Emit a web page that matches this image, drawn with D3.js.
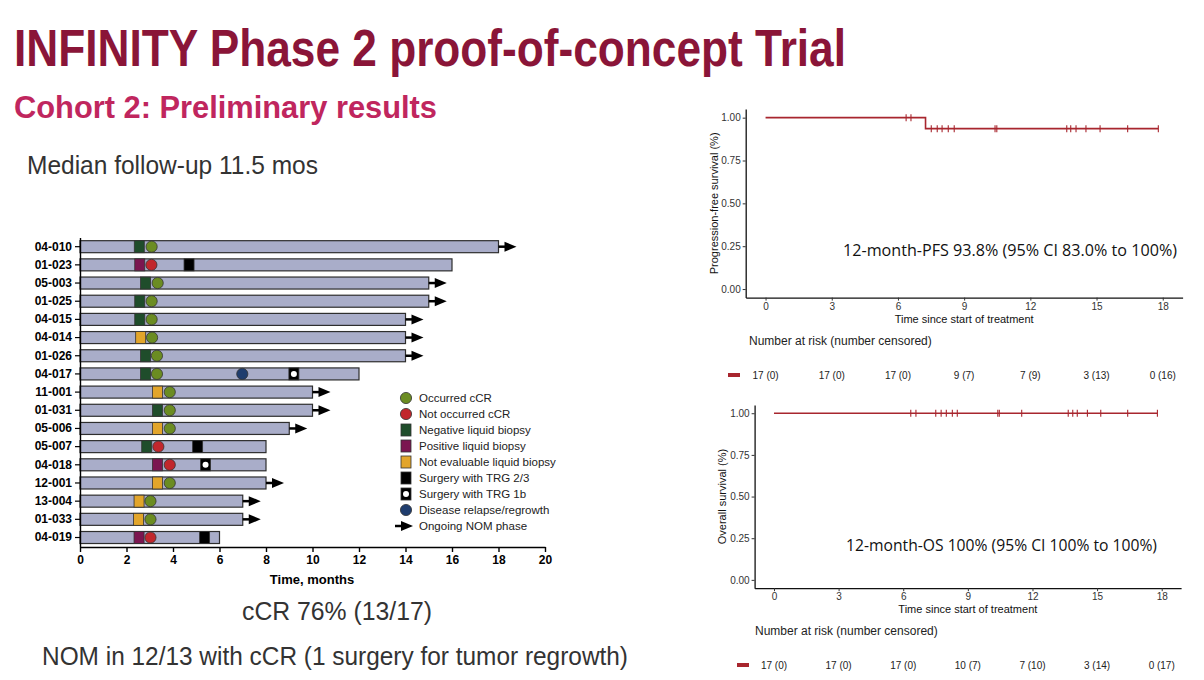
<!DOCTYPE html>
<html>
<head>
<meta charset="utf-8">
<script src="https://cdn.jsdelivr.net/npm/d3@7/dist/d3.min.js"></script>
<style>
  body { margin: 0; background: #fff; }
  svg { display: block; font-family: "Liberation Sans", Arial, sans-serif; }
</style>
</head>
<body>
<div id="chart"></div>
<script>
// ---- swimmer plot data ----
var patients = ["04-010","01-023","05-003","01-025","04-015","04-014","01-026","04-017","11-001","01-031","05-006","05-007","04-018","12-001","13-004","01-033","04-019"];
var followUp = [18, 16, 15, 15, 14, 14, 14, 12, 10, 10, 9, 8, 8, 8, 7, 7, 6];
var ongoing  = [1, 0, 1, 1, 1, 1, 1, 0, 1, 1, 1, 0, 0, 1, 1, 1, 0];
var biopsyMonth  = [2.55, 2.57, 2.82, 2.57, 2.57, 2.61, 2.82, 2.82, 3.33, 3.33, 3.33, 2.87, 3.33, 3.33, 2.54, 2.52, 2.54];
var biopsyResult = ["neg","pos","neg","neg","neg","ne","neg","neg","ne","neg","ne","neg","pos","ne","ne","ne","pos"];
var crMonth    = [3.08, 3.07, 3.34, 3.08, 3.08, 3.1, 3.31, 3.31, 3.86, 3.86, 3.86, 3.37, 3.86, 3.86, 3.03, 3.03, 3.03];
var crOccurred = [1, 0, 1, 1, 1, 1, 1, 1, 1, 1, 1, 0, 0, 1, 1, 1, 0];
var surgeryMonth = [null, 4.69, null, null, null, null, null, 9.2, null, null, null, 5.06, 5.4, null, null, null, 5.36];
var surgeryTRG   = [null, "2/3", null, null, null, null, null, "1b", null, null, null, "2/3", "1b", null, null, null, "2/3"];
var relapseMonth = [null, null, null, null, null, null, null, 6.98, null, null, null, null, null, null, null, null, null];
var swimTicks = [0, 2, 4, 6, 8, 10, 12, 14, 16, 18, 20];

// ---- Kaplan-Meier data ----
var kmTicks = [0, 3, 6, 9, 12, 15, 18];
var survTicks = [0, 0.25, 0.5, 0.75, 1];
var pfsTimes = [0, 7.25, 17.8];
var pfsSurv  = [1, 0.936, 0.936];
var pfsCensor = [6.37, 6.59, 7.51, 7.78, 8.0, 8.28, 8.55, 10.4, 10.48, 13.65, 13.83, 14.07, 14.52, 15.16, 16.41, 17.8];
var pfsRisk = ["17 (0)", "17 (0)", "17 (0)", "9 (7)", "7 (9)", "3 (13)", "0 (16)"];
var osTimes = [0, 17.8];
var osSurv  = [1, 1];
var osCensor = [6.35, 6.59, 7.51, 7.76, 8.0, 8.28, 8.51, 10.39, 10.46, 11.5, 13.66, 13.87, 14.08, 14.55, 15.17, 16.42, 17.8];
var osRisk = ["17 (0)", "17 (0)", "17 (0)", "10 (7)", "7 (10)", "3 (14)", "0 (17)"];

var colors = {
    bar: "#a9adc9",
    neg: "#1f4d2b", pos: "#7b1650", ne: "#e2a52b",
    cr: "#6b8c22", nocr: "#c1272d", relapse: "#1f3d6e",
    km: "#a8262e"
};

var width = 1204, height = 680;
var svg = d3.select("#chart").append("svg")
    .attr("width", width)
    .attr("height", height);
svg.append("rect").attr("width", width).attr("height", height).attr("fill", "#fff");

// ---- titles ----
svg.append("text").attr("x", 14).attr("y", 66)
    .attr("font-size", 52).attr("font-weight", "bold").attr("fill", "#8a1538")
    .attr("textLength", 832).attr("lengthAdjust", "spacingAndGlyphs")
    .text("INFINITY Phase 2 proof-of-concept Trial");
svg.append("text").attr("x", 14).attr("y", 118)
    .attr("font-size", 31).attr("font-weight", "bold").attr("fill", "#c0265e")
    .attr("textLength", 423).attr("lengthAdjust", "spacingAndGlyphs")
    .text("Cohort 2: Preliminary results");
svg.append("text").attr("x", 27).attr("y", 174)
    .attr("font-size", 26).attr("fill", "#333")
    .attr("textLength", 291).attr("lengthAdjust", "spacingAndGlyphs")
    .text("Median follow-up 11.5 mos");
svg.append("text").attr("x", 242).attr("y", 620)
    .attr("font-size", 26).attr("fill", "#333")
    .attr("textLength", 190).attr("lengthAdjust", "spacingAndGlyphs")
    .text("cCR 76% (13/17)");
svg.append("text").attr("x", 42).attr("y", 665)
    .attr("font-size", 26).attr("fill", "#333")
    .attr("textLength", 586).attr("lengthAdjust", "spacingAndGlyphs")
    .text("NOM in 12/13 with cCR (1 surgery for tumor regrowth)");

// ---- swimmer plot ----
var x = d3.scaleLinear().domain([0, 20]).range([80, 545]);
var y = d3.scaleBand().domain(patients).range([237.6, 546.6]).padding(0);
var bh = 12;

var swim = svg.append("g").attr("class", "swimmer");

function arrow(g, x0, cy) {
    g.append("line").attr("x1", x0).attr("x2", x0 + 7).attr("y1", cy).attr("y2", cy)
        .attr("stroke", "#000").attr("stroke-width", 2.5);
    g.append("path")
        .attr("d", "M" + (x0 + 6) + "," + (cy - 5) + "L" + (x0 + 18) + "," + cy + "L" + (x0 + 6) + "," + (cy + 5) + "Z")
        .attr("fill", "#000");
}
function square(g, cx, cy, fill, dot) {
    g.append("rect").attr("x", cx - 5).attr("y", cy - 6).attr("width", 10).attr("height", 12)
        .attr("fill", fill).attr("stroke", "#333").attr("stroke-width", 0.8);
    if (dot) {
        g.append("circle").attr("cx", cx).attr("cy", cy).attr("r", 3).attr("fill", "#fff");
    }
}
function dot(g, cx, cy, fill) {
    g.append("circle").attr("cx", cx).attr("cy", cy).attr("r", 5.6)
        .attr("fill", fill).attr("stroke", "#333").attr("stroke-width", 0.8);
}

patients.forEach(function(p, i) {
    var cy = y(p) + y.bandwidth() / 2;
    swim.append("rect")
        .attr("x", x(0)).attr("y", cy - bh / 2)
        .attr("width", x(followUp[i]) - x(0)).attr("height", bh)
        .attr("fill", colors.bar).attr("stroke", "#2e2e2e").attr("stroke-width", 1.2);
    if (ongoing[i]) arrow(swim, x(followUp[i]), cy);
    square(swim, x(biopsyMonth[i]), cy, colors[biopsyResult[i]]);
    dot(swim, x(crMonth[i]), cy, crOccurred[i] ? colors.cr : colors.nocr);
    if (relapseMonth[i] != null) dot(swim, x(relapseMonth[i]), cy, colors.relapse);
    if (surgeryMonth[i] != null) square(swim, x(surgeryMonth[i]), cy, "#000", surgeryTRG[i] === "1b");
});

var xAxis = swim.append("g")
    .attr("transform", "translate(0," + 547 + ")")
    .call(d3.axisBottom(x).tickValues(swimTicks).tickSize(5).tickSizeOuter(0).tickPadding(3));
xAxis.selectAll("text").attr("font-size", 12).attr("font-weight", "bold").attr("fill", "#000")
    .attr("font-family", "Liberation Sans, Arial, sans-serif");
xAxis.select(".domain").attr("stroke-width", 1.4);
xAxis.selectAll(".tick line").attr("stroke-width", 1.4);

var yAxis = swim.append("g")
    .attr("transform", "translate(" + 80 + ",0)")
    .call(d3.axisLeft(y).tickSize(5).tickSizeOuter(0).tickPadding(3));
yAxis.selectAll("text").attr("font-size", 12).attr("font-weight", "bold").attr("fill", "#000")
    .attr("font-family", "Liberation Sans, Arial, sans-serif");
yAxis.select(".domain").attr("stroke-width", 1.4);
yAxis.selectAll(".tick line").attr("stroke-width", 1.2);

swim.append("text").attr("x", 312).attr("y", 584)
    .attr("text-anchor", "middle").attr("font-size", 13).attr("font-weight", "bold")
    .text("Time, months");

// legend
var legendItems = [
    {label: "Occurred cCR", kind: "dot", fill: colors.cr},
    {label: "Not occurred cCR", kind: "dot", fill: colors.nocr},
    {label: "Negative liquid biopsy", kind: "square", fill: colors.neg},
    {label: "Positive liquid biopsy", kind: "square", fill: colors.pos},
    {label: "Not evaluable liquid biopsy", kind: "square", fill: colors.ne},
    {label: "Surgery with TRG 2/3", kind: "square", fill: "#000"},
    {label: "Surgery with TRG 1b", kind: "square", fill: "#000", dot: true},
    {label: "Disease relapse/regrowth", kind: "dot", fill: colors.relapse},
    {label: "Ongoing NOM phase", kind: "arrow"}
];
var legend = swim.append("g").attr("class", "legend");
legendItems.forEach(function(d, i) {
    var ly = 398 + i * 16;
    if (d.kind === "dot") dot(legend, 406, ly, d.fill);
    else if (d.kind === "square") square(legend, 406, ly, d.fill, d.dot);
    else arrow(legend, 395, ly);
    legend.append("text").attr("x", 419).attr("y", ly).attr("dy", "0.36em")
        .attr("font-size", 11.5).attr("fill", "#222").text(d.label);
});

// ---- Kaplan-Meier panels ----
function drawKM(cfg) {
    var g = svg.append("g");
    var kx = d3.scaleLinear().domain([-0.9, 18.9]).range([cfg.left, cfg.right]);
    var ky = d3.scaleLinear().domain([-0.05, 1.05]).range([cfg.bottom, cfg.top]);

    var ax = g.append("g").attr("transform", "translate(0," + cfg.bottom + ")")
        .call(d3.axisBottom(kx).tickValues(kmTicks).tickSize(3).tickSizeOuter(0).tickPadding(2));
    ax.selectAll("text").attr("font-size", 10).attr("fill", "#333")
        .attr("font-family", "Liberation Sans, Arial, sans-serif");
    ax.selectAll(".tick line").attr("stroke", "#333");
    ax.select(".domain").attr("stroke", "#111").attr("stroke-width", 1.3);

    var ay = g.append("g").attr("transform", "translate(" + cfg.left + ",0)")
        .call(d3.axisLeft(ky).tickValues(survTicks).tickFormat(d3.format(".2f")).tickSize(3).tickSizeOuter(0).tickPadding(2));
    ay.selectAll("text").attr("font-size", 10).attr("fill", "#333")
        .attr("font-family", "Liberation Sans, Arial, sans-serif");
    ay.selectAll(".tick line").attr("stroke", "#333");
    ay.select(".domain").attr("stroke", "#111").attr("stroke-width", 1.3);

    g.append("text").attr("x", kx(9)).attr("y", cfg.bottom + 25)
        .attr("text-anchor", "middle").attr("font-size", 11).attr("fill", "#111")
        .text("Time since start of treatment");
    g.append("text")
        .attr("transform", "translate(" + cfg.ylabX + "," + ky(0.5) + ") rotate(-90)")
        .attr("text-anchor", "middle").attr("dy", "0.35em").attr("font-size", 11).attr("fill", "#111")
        .text(cfg.ylabel);

    var pts = cfg.times.map(function(t, i) { return [t, cfg.surv[i]]; });
    var line = d3.line().x(function(d) { return kx(d[0]); }).y(function(d) { return ky(d[1]); })
        .curve(d3.curveStepAfter);
    g.append("path").datum(pts).attr("d", line)
        .attr("fill", "none").attr("stroke", colors.km).attr("stroke-width", 1.6);

    function survAt(t) {
        var s = cfg.surv[0];
        cfg.times.forEach(function(tt, i) { if (tt <= t) s = cfg.surv[i]; });
        return s;
    }
    g.selectAll(".cens").data(cfg.censor).enter().append("line")
        .attr("x1", function(d) { return kx(d); }).attr("x2", function(d) { return kx(d); })
        .attr("y1", function(d) { return ky(survAt(d)) - 3.5; })
        .attr("y2", function(d) { return ky(survAt(d)) + 3.5; })
        .attr("stroke", colors.km).attr("stroke-width", 1.1);

    g.append("text").attr("x", cfg.noteRight).attr("y", cfg.noteY)
        .attr("text-anchor", "end").attr("font-size", 15.5).attr("fill", "#111")
        .attr("font-family", "'Open Sans', 'Noto Sans', sans-serif")
        .attr("textLength", cfg.noteWidth).attr("lengthAdjust", "spacingAndGlyphs")
        .text(cfg.note);

    g.append("text").attr("x", cfg.riskTitleX).attr("y", cfg.riskTitleY)
        .attr("font-size", 12).attr("fill", "#222").text("Number at risk (number censored)");
    g.append("rect").attr("x", cfg.dashX).attr("y", cfg.riskY - 2).attr("width", 12).attr("height", 4)
        .attr("fill", colors.km);
    g.selectAll(".risk").data(cfg.risk).enter().append("text")
        .attr("x", function(d, i) { return kx(kmTicks[i]); }).attr("y", cfg.riskY).attr("dy", "0.35em")
        .attr("text-anchor", "middle").attr("font-size", 10).attr("fill", "#222")
        .text(function(d) { return d; });
}

drawKM({
    left: 745.7, right: 1182.6, top: 109.1, bottom: 297.6,
    times: pfsTimes, surv: pfsSurv, censor: pfsCensor, risk: pfsRisk,
    ylabel: "Progression-free survival (%)", ylabX: 714,
    note: "12-month-PFS 93.8% (95% CI 83.0% to 100%)", noteRight: 1177, noteY: 256, noteWidth: 334,
    riskTitleX: 749, riskTitleY: 345, riskY: 375, dashX: 728
});
drawKM({
    left: 754.6, right: 1181.1, top: 404.9, bottom: 588.2,
    times: osTimes, surv: osSurv, censor: osCensor, risk: osRisk,
    ylabel: "Overall survival (%)", ylabX: 722.5,
    note: "12-month-OS 100% (95% CI 100% to 100%)", noteRight: 1157, noteY: 551, noteWidth: 311,
    riskTitleX: 755, riskTitleY: 635, riskY: 665, dashX: 737
});
</script>
</body>
</html>
